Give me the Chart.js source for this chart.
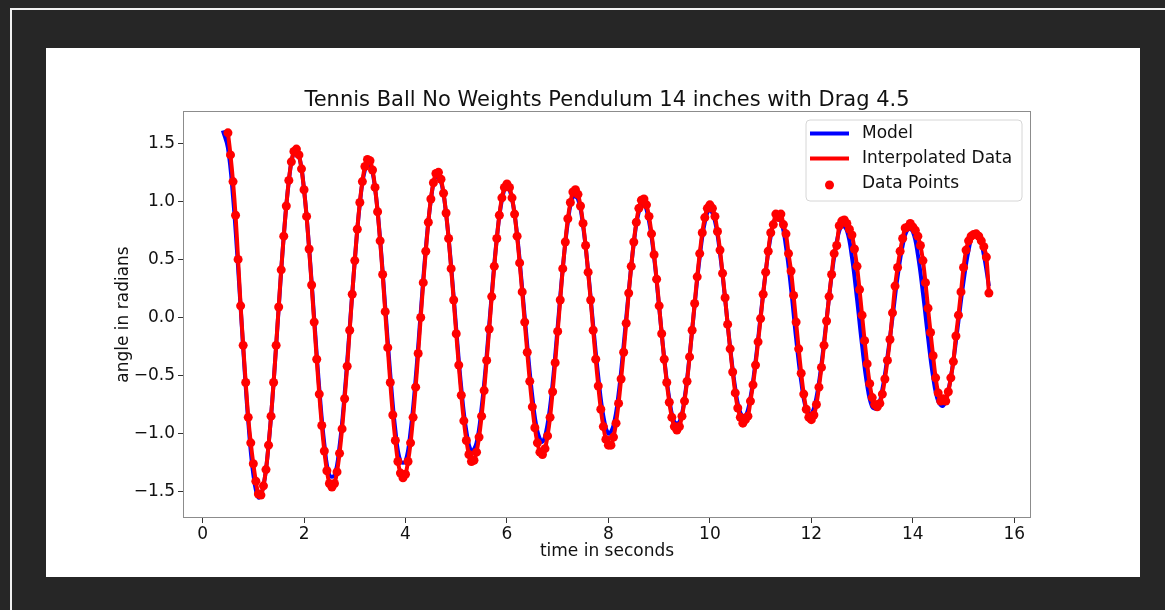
<!DOCTYPE html>
<html>
<head>
<meta charset="utf-8">
<script src="https://cdn.jsdelivr.net/npm/chart.js@4.4.1/dist/chart.umd.min.js"></script>
<style>
  html, body { margin: 0; padding: 0; }
  body { width: 1165px; height: 610px; background: #262626; overflow: hidden; position: relative; }
  #frame { position: absolute; left: 10px; top: 8px; width: 1200px; height: 700px;
           border-top: 2px solid #f0f0f0; border-left: 2px solid #f0f0f0; }
  #panel { position: absolute; left: 46px; top: 48px; width: 1094px; height: 529px; background: #ffffff; }
  canvas { display: block; }
</style>
</head>
<body>
<div id="frame"></div>
<div id="panel"><canvas id="c" width="1094" height="529"></canvas></div>
<script>
// ---------------- DATA ----------------
const titleText = "Tennis Ball No Weights Pendulum 14 inches with Drag 4.5";
const xLabel = "time in seconds";
const yLabel = "angle in radians";
const seriesNames = ["Model", "Interpolated Data", "Data Points"];

const xTicks = [0, 2, 4, 6, 8, 10, 12, 14, 16];
const yTicks = [-1.5, -1.0, -0.5, 0.0, 0.5, 1.0, 1.5];

// measured data (time in s)
const dataTime = [
  0.50,0.55,0.60,0.65,0.70,0.75,0.80,0.85,0.90,0.95,
  1.00,1.05,1.10,1.15,1.20,1.25,1.30,1.35,1.40,1.45,1.50,1.55,1.60,1.65,1.70,1.75,1.80,1.85,1.90,1.95,
  2.00,2.05,2.10,2.15,2.20,2.25,2.30,2.35,2.40,2.45,2.50,2.55,2.60,2.65,2.70,2.75,2.80,2.85,2.90,2.95,
  3.00,3.05,3.10,3.15,3.20,3.25,3.30,3.35,3.40,3.45,3.50,3.55,3.60,3.65,3.70,3.75,3.80,3.85,3.90,3.95,
  4.00,4.05,4.10,4.15,4.20,4.25,4.30,4.35,4.40,4.45,4.50,4.55,4.60,4.65,4.70,4.75,4.80,4.85,4.90,4.95,
  5.00,5.05,5.10,5.15,5.20,5.25,5.30,5.35,5.40,5.45,5.50,5.55,5.60,5.65,5.70,5.75,5.80,5.85,5.90,5.95,
  6.00,6.05,6.10,6.15,6.20,6.25,6.30,6.35,6.40,6.45,6.50,6.55,6.60,6.65,6.70,6.75,6.80,6.85,6.90,6.95,
  7.00,7.05,7.10,7.15,7.20,7.25,7.30,7.35,7.40,7.45,7.50,7.55,7.60,7.65,7.70,7.75,7.80,7.85,7.90,7.95,
  8.00,8.05,8.10,8.15,8.20,8.25,8.30,8.35,8.40,8.45,8.50,8.55,8.60,8.65,8.70,8.75,8.80,8.85,8.90,8.95,
  9.00,9.05,9.10,9.15,9.20,9.25,9.30,9.35,9.40,9.45,9.50,9.55,9.60,9.65,9.70,9.75,9.80,9.85,9.90,9.95,
  10.00,10.05,10.10,10.15,10.20,10.25,10.30,10.35,10.40,10.45,10.50,10.55,10.60,10.65,10.70,10.75,10.80,10.85,10.90,10.95,
  11.00,11.05,11.10,11.15,11.20,11.25,11.30,11.35,11.40,11.45,11.50,11.55,11.60,11.65,11.70,11.75,11.80,11.85,11.90,11.95,
  12.00,12.05,12.10,12.15,12.20,12.25,12.30,12.35,12.40,12.45,12.50,12.55,12.60,12.65,12.70,12.75,12.80,12.85,12.90,12.95,
  13.00,13.05,13.10,13.15,13.20,13.25,13.30,13.35,13.40,13.45,13.50,13.55,13.60,13.65,13.70,13.75,13.80,13.85,13.90,13.95,
  14.00,14.05,14.10,14.15,14.20,14.25,14.30,14.35,14.40,14.45,14.50,14.55,14.60,14.65,14.70,14.75,14.80,14.85,14.90,14.95,
  15.00,15.05,15.10,15.15,15.20,15.25,15.30,15.35,15.40,15.45,15.50
];
// measured angle (radians)
const dataAngle = [
  1.59,1.40,1.17,0.88,0.50,0.10,-0.24,-0.56,-0.86,-1.08,
  -1.26,-1.41,-1.52,-1.53,-1.45,-1.31,-1.10,-0.85,-0.56,-0.24,0.09,0.41,0.70,0.96,1.18,1.34,1.43,1.45,1.40,1.28,
  1.10,0.87,0.59,0.28,-0.04,-0.36,-0.66,-0.93,-1.15,-1.32,-1.43,-1.46,-1.43,-1.33,-1.17,-0.96,-0.70,-0.42,-0.11,0.20,
  0.49,0.76,0.99,1.17,1.30,1.36,1.35,1.27,1.12,0.91,0.66,0.37,0.05,-0.26,-0.56,-0.84,-1.06,-1.24,-1.34,-1.38,
  -1.35,-1.24,-1.08,-0.86,-0.60,-0.31,0.00,0.30,0.57,0.82,1.02,1.16,1.24,1.25,1.19,1.07,0.90,0.68,0.42,0.15,
  -0.14,-0.41,-0.67,-0.89,-1.06,-1.18,-1.24,-1.23,-1.16,-1.03,-0.85,-0.63,-0.37,-0.10,0.18,0.44,0.68,0.88,1.03,1.12,
  1.15,1.12,1.03,0.89,0.70,0.47,0.22,-0.04,-0.30,-0.55,-0.77,-0.95,-1.08,-1.16,-1.18,-1.13,-1.02,-0.86,-0.64,-0.39,
  -0.12,0.15,0.42,0.65,0.85,0.99,1.08,1.10,1.06,0.96,0.81,0.62,0.39,0.15,-0.11,-0.36,-0.59,-0.79,-0.94,-1.05,
  -1.10,-1.10,-1.03,-0.91,-0.74,-0.53,-0.30,-0.05,0.21,0.44,0.65,0.82,0.94,1.01,1.02,0.97,0.87,0.72,0.54,0.33,
  0.10,-0.14,-0.36,-0.56,-0.73,-0.86,-0.94,-0.97,-0.94,-0.85,-0.72,-0.55,-0.34,-0.11,0.12,0.35,0.55,0.73,0.86,0.94,
  0.97,0.94,0.87,0.74,0.58,0.38,0.17,-0.06,-0.27,-0.47,-0.65,-0.78,-0.86,-0.91,-0.88,-0.85,-0.72,-0.58,-0.41,-0.21,
  -0.01,0.20,0.39,0.57,0.73,0.80,0.89,0.86,0.89,0.80,0.72,0.55,0.40,0.19,-0.04,-0.27,-0.48,-0.66,-0.79,-0.86,
  -0.88,-0.84,-0.75,-0.60,-0.43,-0.24,-0.03,0.18,0.37,0.55,0.62,0.79,0.83,0.84,0.81,0.76,0.71,0.59,0.44,0.24,
  0.02,-0.20,-0.40,-0.57,-0.69,-0.75,-0.77,-0.74,-0.66,-0.53,-0.37,-0.19,0.04,0.27,0.43,0.57,0.68,0.77,0.78,0.81,
  0.78,0.75,0.70,0.62,0.49,0.30,0.08,-0.13,-0.33,-0.52,-0.65,-0.72,-0.70,-0.72,-0.64,-0.52,-0.38,-0.16,0.02,0.22,
  0.43,0.58,0.66,0.70,0.715,0.72,0.70,0.66,0.61,0.52,0.21
];

// model (time in s)
const modelTime = [
  0.40,0.50,0.60,0.70,0.80,0.90,
  1.00,1.10,1.20,1.30,1.40,1.50,1.60,1.70,1.80,1.90,
  2.00,2.10,2.20,2.30,2.40,2.50,2.60,2.70,2.80,2.90,
  3.00,3.10,3.20,3.30,3.40,3.50,3.60,3.70,3.80,3.90,
  4.00,4.10,4.20,4.30,4.40,4.50,4.60,4.70,4.80,4.90,
  5.00,5.10,5.20,5.30,5.40,5.50,5.60,5.70,5.80,5.90,
  6.00,6.10,6.20,6.30,6.40,6.50,6.60,6.70,6.80,6.90,
  7.00,7.10,7.20,7.30,7.40,7.50,7.60,7.70,7.80,7.90,
  8.00,8.10,8.20,8.30,8.40,8.50,8.60,8.70,8.80,8.90,
  9.00,9.10,9.20,9.30,9.40,9.50,9.60,9.70,9.80,9.90,
  10.00,10.10,10.20,10.30,10.40,10.50,10.60,10.70,10.80,10.90,
  11.00,11.10,11.20,11.30,11.40,11.50,11.60,11.70,11.80,11.90,
  12.00,12.10,12.20,12.30,12.40,12.50,12.60,12.70,12.80,12.90,
  13.00,13.10,13.20,13.30,13.40,13.50,13.60,13.70,13.80,13.90,
  14.00,14.10,14.20,14.30,14.40,14.50,14.60,14.70,14.80,14.90,
  15.00,15.10,15.20,15.30,15.40,15.50
];
const modelAngle = [
  1.61,1.46,1.04,0.43,-0.26,-0.89,
  -1.35,-1.55,-1.45,-1.10,-0.56,0.08,0.70,1.17,1.42,1.39,
  1.10,0.60,-0.01,-0.61,-1.09,-1.36,-1.36,-1.11,-0.66,-0.09,
  0.49,0.98,1.27,1.32,1.11,0.67,0.09,-0.49,-0.97,-1.24,
  -1.24,-0.98,-0.53,0.04,0.59,1.01,1.22,1.17,0.89,0.44,
  -0.10,-0.61,-0.98,-1.15,-1.08,-0.78,-0.33,0.20,0.68,1.01,
  1.13,1.02,0.71,0.25,-0.24,-0.68,-0.98,-1.07,-0.92,-0.57,
  -0.08,0.42,0.82,1.04,1.02,0.79,0.40,-0.07,-0.51,-0.85,
  -1.00,-0.93,-0.66,-0.24,0.22,0.64,0.91,0.98,0.83,0.52,
  0.09,-0.35,-0.70,-0.90,-0.90,-0.70,-0.33,0.11,0.52,0.82,
  0.925,0.83,0.55,0.16,-0.26,-0.61,-0.82,-0.85,-0.69,-0.38,
  0.01,0.39,0.70,0.86,0.83,0.61,0.25,-0.18,-0.55,-0.79,
  -0.83,-0.69,-0.40,-0.02,0.36,0.65,0.79,0.75,0.52,0.16,
  -0.24,-0.58,-0.77,-0.78,-0.62,-0.34,0.00,0.35,0.62,0.76,
  0.74,0.54,0.21,-0.17,-0.51,-0.72,-0.76,-0.63,-0.37,-0.03,
  0.31,0.58,0.73,0.71,0.54,0.27
];

// ---------------- CHART ----------------
const FONT = '"DejaVu Sans", "Liberation Sans", sans-serif';
const TEXT = '#111111';
Chart.defaults.font.family = FONT;
Chart.defaults.color = TEXT;

const modelPts = modelTime.map((t, i) => ({ x: t, y: modelAngle[i] }));
const dataPts = dataTime.map((t, i) => ({ x: t, y: dataAngle[i] }));

const fmtY = v => (v < 0 ? '\u2212' : '') + Math.abs(v).toFixed(1);

const framePlugin = {
  id: 'frameBox',
  afterDatasetsDraw(chart) {
    const { ctx, chartArea: a } = chart;
    ctx.save();
    ctx.strokeStyle = '#8c8c8c';
    ctx.lineWidth = 1;
    ctx.strokeRect(Math.round(a.left) + 0.5, Math.round(a.top) + 0.5,
                   Math.round(a.right - a.left) - 1, Math.round(a.bottom - a.top) - 1);
    ctx.restore();
  }
};

const titlePlugin = {
  id: 'mplTitle',
  afterDraw(chart) {
    const { ctx, chartArea: a } = chart;
    ctx.save();
    ctx.font = '21px ' + FONT;
    ctx.fillStyle = TEXT;
    ctx.textAlign = 'center';
    ctx.textBaseline = 'alphabetic';
    ctx.fillText(titleText, (a.left + a.right) / 2, a.top - 5);
    ctx.restore();
  }
};

const legendPlugin = {
  id: 'mplLegend',
  afterDraw(chart) {
    const { ctx, chartArea: a } = chart;
    const ds = chart.data.datasets;
    const bw = 216, bh = 81;
    const bx = a.right - 9 - bw, by = a.top + 9;
    ctx.save();
    const r = 4;
    ctx.beginPath();
    ctx.moveTo(bx + r, by);
    ctx.lineTo(bx + bw - r, by);
    ctx.quadraticCurveTo(bx + bw, by, bx + bw, by + r);
    ctx.lineTo(bx + bw, by + bh - r);
    ctx.quadraticCurveTo(bx + bw, by + bh, bx + bw - r, by + bh);
    ctx.lineTo(bx + r, by + bh);
    ctx.quadraticCurveTo(bx, by + bh, bx, by + bh - r);
    ctx.lineTo(bx, by + r);
    ctx.quadraticCurveTo(bx, by, bx + r, by);
    ctx.closePath();
    ctx.fillStyle = 'rgba(255,255,255,0.85)';
    ctx.fill();
    ctx.strokeStyle = '#d6d6d6';
    ctx.lineWidth = 1;
    ctx.stroke();

    ctx.font = '17px ' + FONT;
    ctx.textAlign = 'left';
    ctx.textBaseline = 'middle';
    const rowY = [by + 13.5, by + 38.5, by + 64];
    const lx0 = bx + 4, lx1 = bx + 43, tx = bx + 56;
    ds.forEach((d, i) => {
      const y = rowY[i];
      if (d.showLine) {
        ctx.strokeStyle = d.borderColor;
        ctx.lineWidth = 4;
        ctx.beginPath();
        ctx.moveTo(lx0, y);
        ctx.lineTo(lx1, y);
        ctx.stroke();
      } else {
        ctx.fillStyle = d.pointBackgroundColor;
        ctx.beginPath();
        ctx.arc((lx0 + lx1) / 2, y + 1, 4.5, 0, Math.PI * 2);
        ctx.fill();
      }
      ctx.fillStyle = TEXT;
      ctx.fillText(d.label, tx, y);
    });
    ctx.restore();
  }
};

new Chart(document.getElementById('c'), {
  type: 'scatter',
  data: {
    datasets: [
      {
        label: seriesNames[0],
        data: modelPts,
        showLine: true,
        borderColor: '#0000ff',
        backgroundColor: '#0000ff',
        borderWidth: 4,
        pointRadius: 0,
        tension: 0.4,
        order: 3
      },
      {
        label: seriesNames[1],
        data: dataPts,
        showLine: true,
        borderColor: '#ff0000',
        backgroundColor: '#ff0000',
        borderWidth: 4,
        pointRadius: 0,
        tension: 0.3,
        order: 2
      },
      {
        label: seriesNames[2],
        data: dataPts,
        showLine: false,
        pointRadius: 4.5,
        pointHoverRadius: 4.5,
        pointBackgroundColor: '#ff0000',
        pointBorderWidth: 0,
        borderColor: '#ff0000',
        order: 1
      }
    ]
  },
  options: {
    responsive: false,
    animation: false,
    devicePixelRatio: 1,
    events: [],
    layout: { padding: { left: 0, right: 109, top: 63, bottom: 0 } },
    plugins: {
      legend: { display: false },
      title: { display: false },
      tooltip: { enabled: false }
    },
    scales: {
      x: {
        type: 'linear',
        min: -0.386,
        max: 16.33,
        afterFit(s) { s.height = 59; },
        afterBuildTicks(s) { s.ticks = xTicks.map(v => ({ value: v })); },
        grid: { display: true, drawOnChartArea: false, drawTicks: true, tickLength: 5, tickWidth: 1, tickColor: '#333333' },
        border: { display: false },
        ticks: {
          padding: 1,
          maxRotation: 0,
          autoSkip: false,
          font: { size: 17 },
          color: TEXT,
          callback: v => String(v)
        },
        title: {
          display: true,
          text: xLabel,
          font: { size: 17 },
          color: TEXT,
          padding: { top: 0, bottom: 15 }
        }
      },
      y: {
        type: 'linear',
        min: -1.727,
        max: 1.778,
        afterFit(s) { s.width = 137; },
        afterBuildTicks(s) { s.ticks = yTicks.map(v => ({ value: v })); },
        grid: { display: true, drawOnChartArea: false, drawTicks: true, tickLength: 5, tickWidth: 1, tickColor: '#333333' },
        border: { display: false },
        ticks: {
          padding: 3,
          autoSkip: false,
          font: { size: 17 },
          color: TEXT,
          callback: v => fmtY(v)
        },
        title: {
          display: true,
          text: yLabel,
          font: { size: 17 },
          color: TEXT,
          padding: { top: 67, bottom: 0 }
        }
      }
    }
  },
  plugins: [framePlugin, titlePlugin, legendPlugin]
});
</script>
</body>
</html>
